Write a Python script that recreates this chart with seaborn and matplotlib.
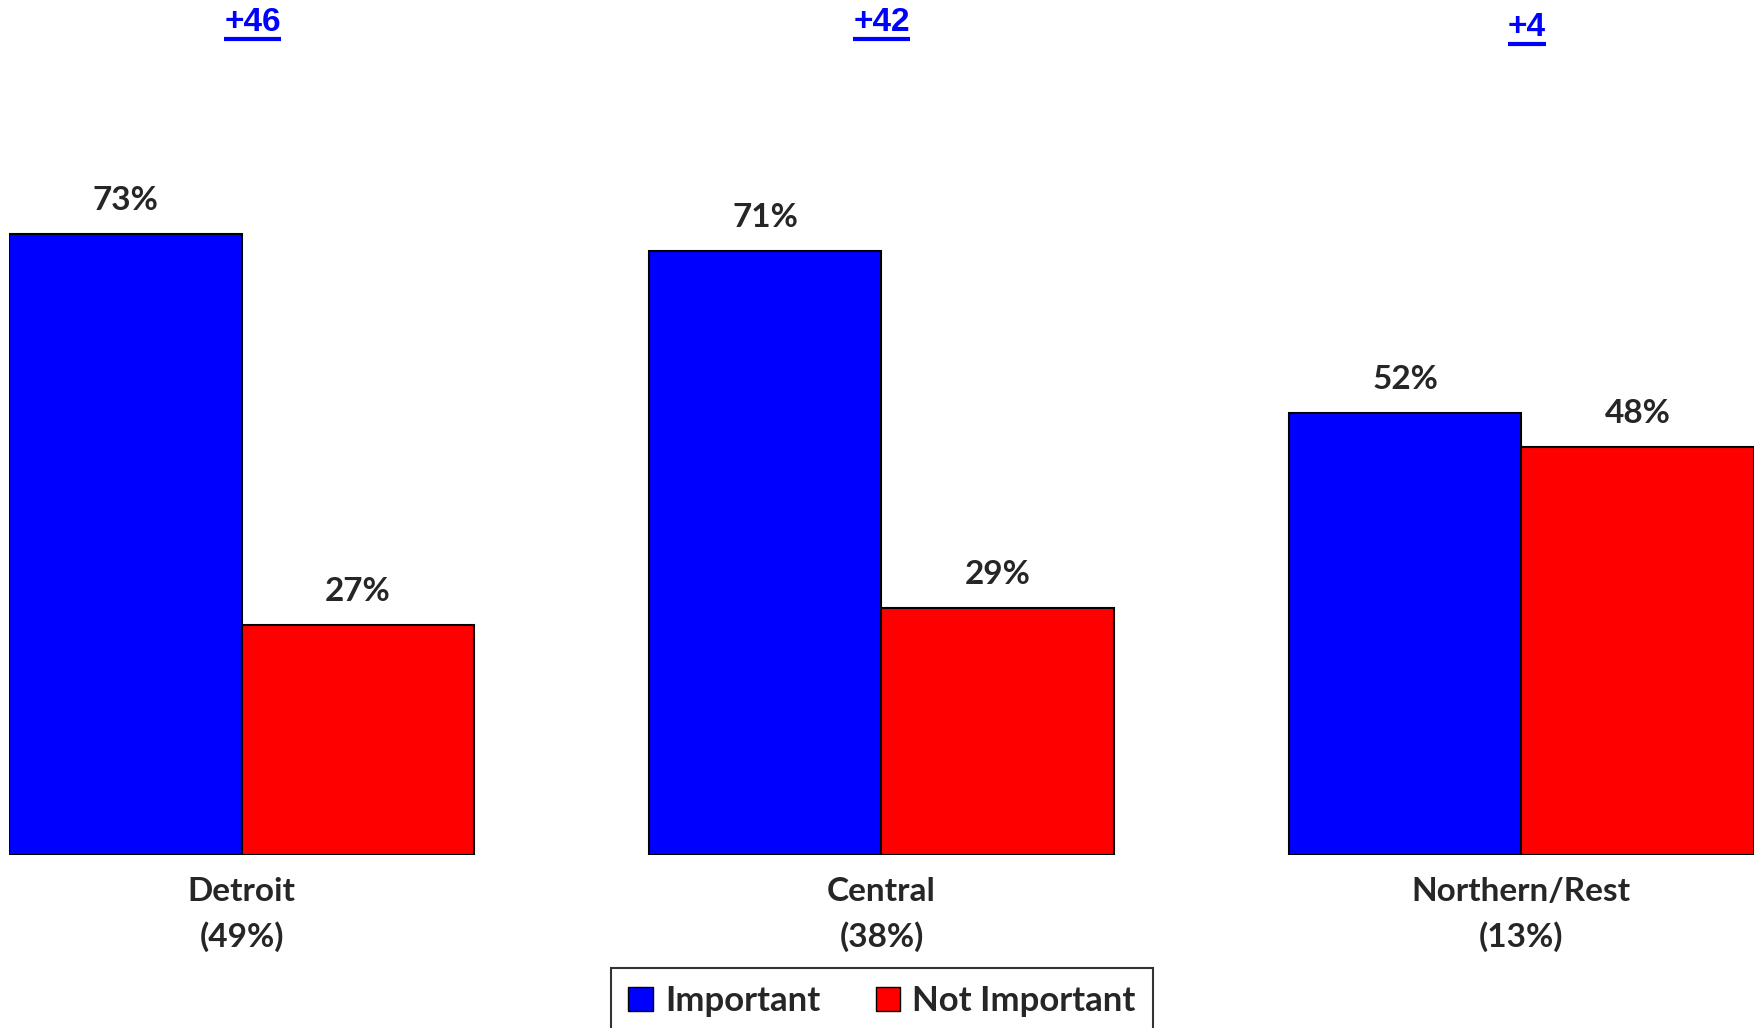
import matplotlib
matplotlib.use('Agg')
import matplotlib.pyplot as plt
from matplotlib.patches import Patch
import seaborn as sns
import pandas as pd

regions = ['Detroit\n(49%)', 'Central\n(38%)', 'Northern/Rest\n(13%)']
important = [73, 71, 52]
not_important = [27, 29, 48]
margins = ['+46', '+42', '+4']
series = ['Important', 'Not Important']
colors = {'Important': '#0000FF', 'Not Important': '#FF0000'}

df = pd.DataFrame({
    'region': regions * 2,
    'value': important + not_important,
    'series': [series[0]] * 3 + [series[1]] * 3,
})

sns.set_style('white')
plt.rcParams['font.family'] = ['Lato', 'DejaVu Sans']
plt.rcParams['font.weight'] = 'bold'

W, H = 1763, 1028
fig = plt.figure(figsize=(W / 100, H / 100), dpi=100)
# axes: left 9px, right 1754px, baseline 854.5px, 8.5px per percent
ax = fig.add_axes([9 / W, 1 - 854.5 / H, (1754 - 9) / W, 850 / H])

ax = sns.barplot(data=df, x='region', y='value', hue='series', palette=colors,
                 width=0.727, saturation=1, edgecolor='black', linewidth=1.5,
                 ax=ax, legend=False)
ax.set_xlim(-0.3635, 2.3635)
ax.set_ylim(0, 100)

for p in ax.patches:
    h = p.get_height()
    if h != h or p.get_width() == 0:
        continue
    ax.text(p.get_x() + p.get_width() / 2, h + 2.2, '%d%%' % round(h),
            ha='center', va='bottom', fontsize=24, fontweight='bold')

for s in ax.spines.values():
    s.set_visible(False)
ax.set_yticks([])
ax.set_xlabel('')
ax.set_ylabel('')
ax.tick_params(axis='x', length=0, pad=16, labelsize=24)
for lab in ax.get_xticklabels():
    lab.set_fontweight('bold')
    lab.set_linespacing(1.6)

# margin labels, underlined
fig.canvas.draw()
renderer = fig.canvas.get_renderer()
offsets = [0.017, 0.0, 0.008]
for i, m in enumerate(margins):
    t = ax.text(i + offsets[i], 97.9 if i < 2 else 97.3, m, ha='center', va='center',
                color='#0000FF', fontsize=24, fontweight='bold',
                family=['Liberation Sans'], clip_on=False)
    bb = t.get_window_extent(renderer).transformed(ax.transData.inverted())
    ax.plot([bb.x0, bb.x1], [bb.y0 - 0.1, bb.y0 - 0.1], color='#0000FF', lw=3,
            clip_on=False, solid_capstyle='butt')

handles = [Patch(facecolor=colors[s], edgecolor='black', linewidth=1, label=s) for s in series]
leg = fig.legend(handles=handles, loc='upper center', ncol=2,
                 bbox_to_anchor=(882 / W, 1 - 968 / H), frameon=True, fancybox=False,
                 edgecolor='black', fontsize=25, handlelength=0.7, handleheight=0.7,
                 handletextpad=0.35, columnspacing=1.6, borderpad=0.5, borderaxespad=0)
leg.get_frame().set_linewidth(1.5)
for t in leg.get_texts():
    t.set_fontweight('bold')

fig.savefig('out.png', dpi=100)
